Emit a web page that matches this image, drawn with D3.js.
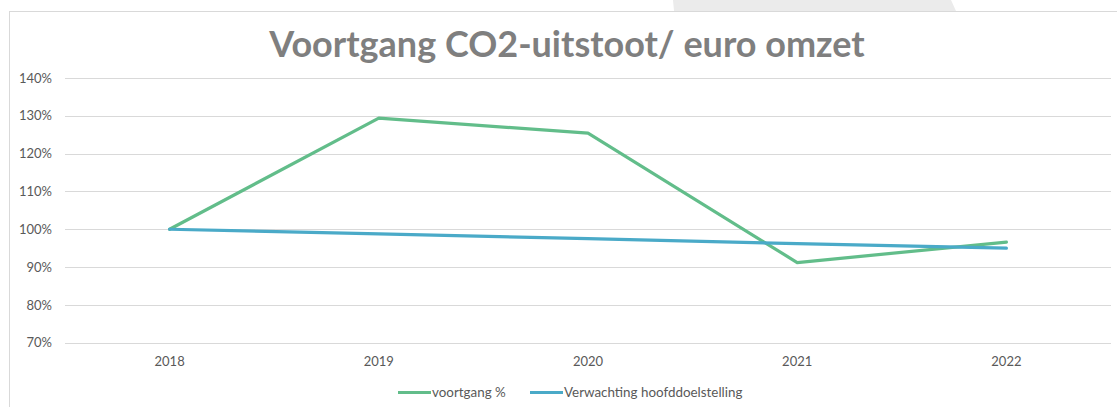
<!DOCTYPE html>
<html>
<head>
<meta charset="utf-8">
<script src="https://cdn.jsdelivr.net/npm/d3@7"></script>
<style>
  body { margin: 0; background: #fff; }
  svg { display: block; }
</style>
</head>
<body>
<div id="chart"></div>
<script>
// data
const years = ['2018', '2019', '2020', '2021', '2022'];
const voortgang = [100, 129.4, 125.4, 91.2, 96.6];
const verwachting = [100, 98.8, 97.5, 96.2, 95.0];
const yTicks = [70, 80, 90, 100, 110, 120, 130, 140];
const seriesNames = ['voortgang %', 'Verwachting hoofddoelstelling'];
const seriesColors = ['#62bd8a', '#4aaac8'];

const width = 1117;
const height = 407;

const svg = d3.select('#chart')
  .append('svg')
  .attr('width', width)
  .attr('height', height);

// grey shape peeking in at the top
svg.append('polygon')
  .attr('points', '673,0 951,0 956,11 674,11')
  .attr('fill', '#ebebeb');

// chart frame
svg.append('rect')
  .attr('x', 9.5)
  .attr('y', 11.5)
  .attr('width', width)
  .attr('height', height)
  .attr('fill', '#fff')
  .attr('stroke', '#d9d9d9');

// title
svg.append('text')
  .attr('x', 567)
  .attr('y', 57)
  .attr('text-anchor', 'middle')
  .attr('font-family', 'Lato, sans-serif')
  .attr('font-weight', 'bold')
  .attr('font-size', '36px')
  .attr('fill', '#7f7f7f')
  .text('Voortgang CO2-uitstoot/ euro omzet');

// scales
const scaleX = d3.scaleBand()
  .domain(years)
  .range([65, 1111]);

const scaleY = d3.scaleLinear()
  .domain([70, 140])
  .range([342.7, 78]);

const labelFont = 'Lato, sans-serif';

// gridlines
const grid = svg.append('g').attr('class', 'grid');
grid.selectAll('line')
  .data(yTicks)
  .enter()
  .append('line')
  .attr('x1', 65)
  .attr('x2', 1111)
  .attr('y1', d => Math.round(scaleY(d)) + 0.5)
  .attr('y2', d => Math.round(scaleY(d)) + 0.5)
  .attr('stroke', '#d9d9d9')
  .attr('stroke-width', 1);

// y axis labels
const axisY = d3.axisLeft(scaleY)
  .tickValues(yTicks)
  .tickFormat(d => d + '%')
  .tickSize(0)
  .tickPadding(0);
const gY = svg.append('g')
  .attr('transform', 'translate(52, 0)')
  .call(axisY);
gY.select('.domain').remove();
gY.selectAll('text')
  .attr('font-family', labelFont)
  .attr('font-size', '13px')
  .attr('fill', '#595959');

// x axis labels
const axisX = d3.axisBottom(scaleX)
  .tickSize(0)
  .tickPadding(0);
const gX = svg.append('g')
  .attr('transform', 'translate(0, 357)')
  .call(axisX);
gX.select('.domain').remove();
gX.selectAll('text')
  .attr('font-family', labelFont)
  .attr('font-size', '13px')
  .attr('fill', '#595959');

// lines
const line = d3.line()
  .x((d, i) => scaleX(years[i]) + scaleX.bandwidth() / 2)
  .y(d => scaleY(d));

[voortgang, verwachting].forEach((series, k) => {
  svg.append('path')
    .datum(series)
    .attr('d', line)
    .attr('fill', 'none')
    .attr('stroke', seriesColors[k])
    .attr('stroke-width', 3.2)
    .attr('stroke-linejoin', 'round')
    .attr('stroke-linecap', 'round');
});

// legend
const legendX = [398, 530];
const legend = svg.append('g').attr('class', 'legend');
seriesNames.forEach((name, k) => {
  legend.append('line')
    .attr('x1', legendX[k])
    .attr('x2', legendX[k] + 33)
    .attr('y1', 392.5)
    .attr('y2', 392.5)
    .attr('stroke', seriesColors[k])
    .attr('stroke-width', 3.2);
  legend.append('text')
    .attr('x', legendX[k] + 34)
    .attr('y', 397)
    .attr('font-family', labelFont)
    .attr('font-size', '13.4px')
    .attr('fill', '#595959')
    .text(name);
});
</script>
</body>
</html>
